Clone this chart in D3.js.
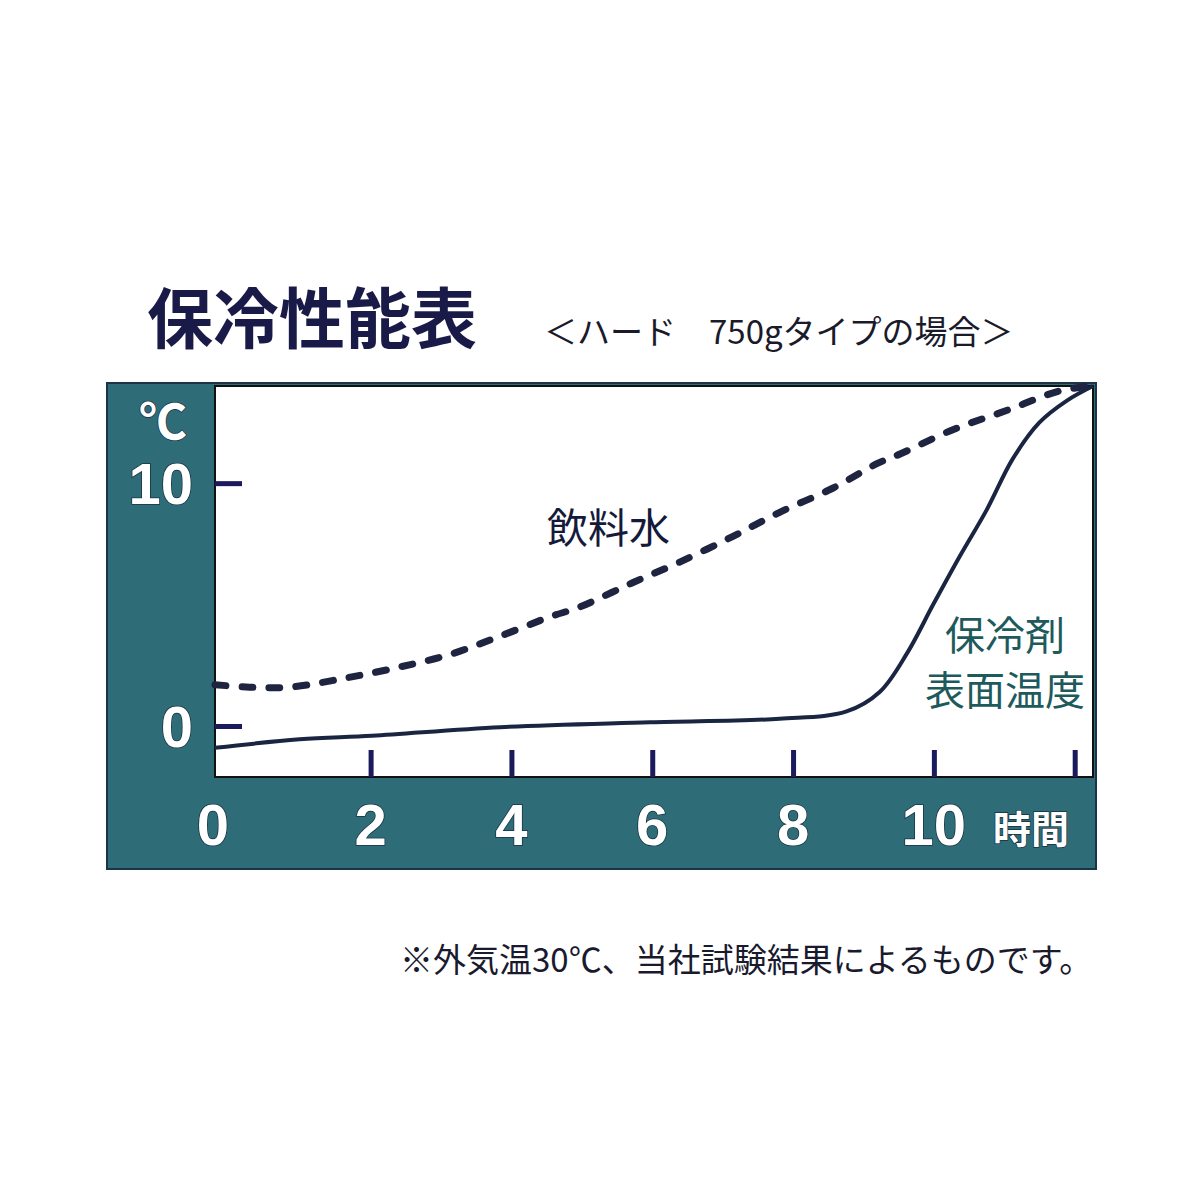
<!DOCTYPE html>
<html>
<head>
<meta charset="utf-8">
<script src="https://cdn.jsdelivr.net/npm/d3@7"></script>
<style>
  body { margin: 0; background: #fff; }
</style>
</head>
<body>
<div id="chart"></div>
<script>
// data (hours, degrees C)
const drinkHours = [-0.21, 0.28, 0.85, 1.6, 2.37, 3.13, 3.84, 4.55, 4.97, 5.72, 6.39, 7.14, 7.81, 8.57, 9.19, 9.52, 10.27, 11.04, 11.79, 12.26];
const drinkTemp  = [1.7, 1.6, 1.6, 1.95, 2.4, 2.95, 3.7, 4.5, 4.9, 5.9, 6.75, 7.8, 8.8, 9.8, 10.8, 11.2, 12.2, 13.0, 13.8, 14.0];

const packHours = [-0.21, 0.99, 2.02, 3.84, 5.97, 7.81, 8.76, 9.23, 9.62, 9.99, 10.37, 10.75, 11.12, 11.5, 11.89, 12.26];
const packTemp  = [-0.9, -0.55, -0.4, -0.05, 0.15, 0.3, 0.6, 1.4, 3.0, 5.0, 7.0, 8.9, 11.0, 12.5, 13.4, 14.0];

const xTickHours = [2, 4, 6, 8, 10, 12];
const xLabelHours = [0, 2, 4, 6, 8, 10];
const yTicks = [0, 10];

let svgWidth = 1200;
let svgHeight = 1200;

// plot area (white box)
let plot = { left: 215, right: 1093, top: 386, bottom: 777 };

let svg = d3.select("#chart")
    .append("svg")
    .attr("width", svgWidth)
    .attr("height", svgHeight)
    .attr("font-family", "'Noto Sans CJK JP', sans-serif");

// scales
let x = d3.scaleLinear()
    .domain([-0.21, 12.26])
    .range([plot.left, plot.right]);

let y = d3.scaleLinear()
    .domain([-2.1, 14])
    .range([plot.bottom, plot.top]);

const teal = "#2e6d78";

// title
svg.append("text")
    .attr("x", 147)
    .attr("y", 314)
    .attr("dominant-baseline", "central")
    .attr("font-size", 66)
    .attr("font-weight", "bold")
    .attr("fill", "#1a1a48")
    .text("保冷性能表");

svg.append("text")
    .attr("x", 544)
    .attr("y", 330)
    .attr("dominant-baseline", "central")
    .attr("font-size", 33)
    .attr("fill", "#1a1a2a")
    .text("＜ハード　750gタイプの場合＞");

// teal frame
svg.append("rect")
    .attr("x", 107)
    .attr("y", 383)
    .attr("width", 989)
    .attr("height", 486)
    .attr("fill", teal)
    .attr("stroke", "#1b3448")
    .attr("stroke-width", 2);

svg.append("rect")
    .attr("x", plot.left)
    .attr("y", plot.top)
    .attr("width", plot.right - plot.left)
    .attr("height", plot.bottom - plot.top)
    .attr("fill", "#fff")
    .attr("stroke", "#111")
    .attr("stroke-width", 2);

// ticks
let bottomAxis = d3.axisBottom(x)
    .tickValues(xTickHours)
    .tickSizeInner(-27)
    .tickSizeOuter(0)
    .tickFormat("");

let xAxis = svg.append("g")
    .attr("transform", `translate(0,${plot.bottom})`)
    .call(bottomAxis);

let leftAxis = d3.axisLeft(y)
    .tickValues(yTicks)
    .tickSizeInner(-27)
    .tickSizeOuter(0)
    .tickFormat("");

let yAxis = svg.append("g")
    .attr("transform", `translate(${plot.left},0)`)
    .call(leftAxis);

svg.selectAll(".domain").remove();
svg.selectAll(".tick line")
    .attr("stroke", "#1a1a5c")
    .attr("stroke-width", 5);

// lines
let line = d3.line()
    .x(d => x(d[0]))
    .y(d => y(d[1]))
    .curve(d3.curveCatmullRom.alpha(0.5));

let plotG = svg.append("g");

plotG.append("path")
    .datum(drinkHours.map((h, i) => [h, drinkTemp[i]]))
    .attr("d", line)
    .attr("fill", "none")
    .attr("stroke", "#1f2540")
    .attr("stroke-width", 7)
    .attr("stroke-linecap", "round")
    .attr("stroke-dasharray", "11 16");

plotG.append("path")
    .datum(packHours.map((h, i) => [h, packTemp[i]]))
    .attr("d", line)
    .attr("fill", "none")
    .attr("stroke", "#1a2542")
    .attr("stroke-width", 4);

// axis labels (white with dark edge)
function whiteText(sel, family) {
    return sel.attr("fill", "#fff")
        .attr("stroke", "#163040")
        .attr("stroke-width", 1.5)
        .attr("paint-order", "stroke")
        .attr("font-family", family || "'Liberation Sans', sans-serif");
}

svg.selectAll(".xlabel")
    .data(xLabelHours)
    .enter()
    .append("text")
    .attr("class", "xlabel")
    .attr("x", d => d === 0 ? plot.left - 2 : x(d))
    .attr("y", 845)
    .attr("text-anchor", "middle")
    .attr("font-size", 58)
    .attr("font-weight", "bold")
    .text(d => d)
    .call(whiteText);

svg.append("text")
    .attr("x", 1031)
    .attr("y", 826)
    .attr("text-anchor", "middle")
    .attr("dominant-baseline", "central")
    .attr("font-size", 38)
    .attr("font-weight", "bold")
    .text("時間")
    .call(whiteText, "'Noto Sans CJK JP', sans-serif");

svg.selectAll(".ylabel")
    .data(yTicks)
    .enter()
    .append("text")
    .attr("class", "ylabel")
    .attr("x", 193)
    .attr("y", d => y(d) + 21)
    .attr("text-anchor", "end")
    .attr("font-size", 58)
    .attr("font-weight", "bold")
    .text(d => d)
    .call(whiteText);

svg.append("text")
    .attr("x", 163)
    .attr("y", 418)
    .attr("text-anchor", "middle")
    .attr("dominant-baseline", "central")
    .attr("font-size", 48)
    .attr("font-weight", "bold")
    .text("℃")
    .call(whiteText, "'Noto Sans CJK JP', sans-serif");

// series labels
svg.append("text")
    .attr("x", 547)
    .attr("y", 525)
    .attr("dominant-baseline", "central")
    .attr("font-size", 41)
    .attr("fill", "#151a3a")
    .text("飲料水");

svg.append("text")
    .attr("x", 1005)
    .attr("y", 633)
    .attr("text-anchor", "middle")
    .attr("dominant-baseline", "central")
    .attr("font-size", 40)
    .attr("fill", "#1e5a5c")
    .text("保冷剤");

svg.append("text")
    .attr("x", 1005)
    .attr("y", 688)
    .attr("text-anchor", "middle")
    .attr("dominant-baseline", "central")
    .attr("font-size", 40)
    .attr("fill", "#1e5a5c")
    .text("表面温度");

// footnote
svg.append("text")
    .attr("x", 400)
    .attr("y", 958)
    .attr("dominant-baseline", "central")
    .attr("font-size", 33)
    .attr("fill", "#1a1a2e")
    .text("※外気温30℃、当社試験結果によるものです。");
</script>
</body>
</html>
